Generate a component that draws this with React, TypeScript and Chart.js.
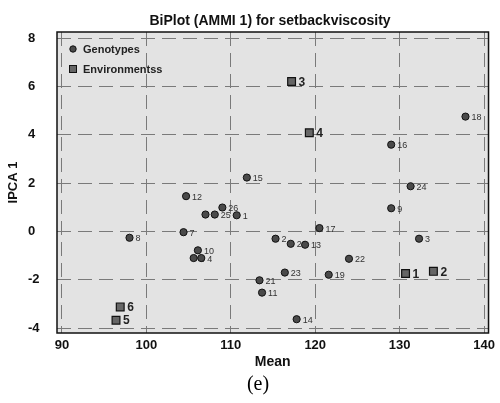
import React, { useEffect, useRef } from "react";
import { Chart, registerables } from "chart.js";

Chart.register(...registerables);

const genoLabels = ["1","2","3","4","5","6","7","8","9","10","11","12","13","14","15","16","17","18","19","20","21","22","23","24","25","26"];
const genoMean = [110.7,115.3,132.3,106.5,107.0,105.6,104.4,98.0,129.0,106.1,113.7,104.7,118.8,117.8,111.9,129.0,120.5,137.8,121.6,117.1,113.4,124.0,116.4,131.3,108.1,109.0];
const genoIPCA = [0.67,-0.30,-0.30,-1.10,0.70,-1.10,-0.03,-0.26,0.96,-0.78,-2.53,1.46,-0.55,-3.63,2.23,3.59,0.14,4.75,-1.79,-0.51,-2.02,-1.13,-1.70,1.87,0.70,0.99];

const envLabels = ["1","2","3","4","5","6"];
const envMean = [130.7,134.0,117.2,119.3,96.4,96.9];
const envIPCA = [-1.74,-1.65,6.20,4.08,-3.67,-3.12];

const xTicks = [90,100,110,120,130,140];
const yTicks = [-4,-2,0,2,4,6,8];

const titleText = "BiPlot (AMMI 1) for setbackviscosity";
const xTitle = "Mean";
const yTitle = "IPCA 1";
const legendNames = ["Genotypes", "Environmentss"];
const caption = "(e)";

const FONT = "Arial, 'Liberation Sans', sans-serif";

export default function App() {
  const ref = useRef<HTMLCanvasElement | null>(null);
  useEffect(() => {
    if (!ref.current) return;
    const deco = {
      id: "deco",
      beforeDatasetsDraw(chart: any) {
        const { ctx, chartArea: a } = chart;
        ctx.save();
        // genotype labels (drawn under markers)
        const m0 = chart.getDatasetMeta(0);
        ctx.font = "9px " + FONT;
        ctx.fillStyle = "#333";
        ctx.textBaseline = "middle";
        ctx.textAlign = "left";
        m0.data.forEach((p: any, i: number) => {
          ctx.fillText(genoLabels[i], p.x + 6, p.y + 1);
        });
        const m1 = chart.getDatasetMeta(1);
        ctx.font = "bold 12px " + FONT;
        ctx.fillStyle = "#222";
        m1.data.forEach((p: any, i: number) => {
          ctx.fillText(envLabels[i], p.x + 7, p.y + 1);
        });
        ctx.restore();
      },
      beforeDraw(chart: any) {
        const { ctx, chartArea: a } = chart;
        ctx.save();
        ctx.fillStyle = "#e3e3e3";
        ctx.fillRect(a.left, a.top, a.right - a.left, a.bottom - a.top);
        ctx.restore();
      },
      afterDraw(chart: any) {
        const { ctx, chartArea: a } = chart;
        ctx.save();
        ctx.strokeStyle = "#111";
        ctx.lineWidth = 1.5;
        ctx.strokeRect(a.left, a.top, a.right - a.left, a.bottom - a.top);
        // title
        ctx.fillStyle = "#111";
        ctx.textAlign = "center";
        ctx.textBaseline = "middle";
        ctx.font = "bold 14px " + FONT;
        ctx.fillText(titleText, 270, 21);
        // x title
        ctx.font = "bold 14px " + FONT;
        ctx.fillText(xTitle, (a.left + a.right) / 2, 362);
        // y title
        ctx.save();
        ctx.translate(13, (a.top + a.bottom) / 2);
        ctx.rotate(-Math.PI / 2);
        ctx.font = "bold 13px " + FONT;
        ctx.fillText(yTitle, 0, 0);
        ctx.restore();
        // caption
        ctx.font = "20px 'Liberation Serif', 'Times New Roman', serif";
        ctx.fillStyle = "#000";
        ctx.fillText(caption, 258, 385);
        // legend
        ctx.textAlign = "left";
        ctx.font = "bold 11px " + FONT;
        ctx.fillStyle = "#222";
        ctx.beginPath();
        ctx.arc(73, 49, 3.2, 0, Math.PI * 2);
        ctx.fillStyle = "#4a4a4a";
        ctx.fill();
        ctx.strokeStyle = "#111";
        ctx.lineWidth = 1;
        ctx.stroke();
        ctx.fillStyle = "#666";
        ctx.fillRect(69.5, 65.5, 7, 7);
        ctx.strokeRect(69.5, 65.5, 7, 7);
        ctx.fillStyle = "#222";
        ctx.fillText(legendNames[0], 83, 50);
        ctx.fillText(legendNames[1], 83, 70);
        ctx.restore();
      },
    };
    const chart = new Chart(ref.current, {
      type: "scatter",
      data: {
        datasets: [
          {
            label: legendNames[0],
            data: genoMean.map((x, i) => ({ x, y: genoIPCA[i] })),
            pointStyle: "circle",
            pointRadius: 3.6,
            backgroundColor: "#4a4a4a",
            borderColor: "#111",
            borderWidth: 1,
          },
          {
            label: legendNames[1],
            data: envMean.map((x, i) => ({ x, y: envIPCA[i] })),
            pointStyle: "rect",
            pointRadius: 5.5,
            backgroundColor: "#666",
            borderColor: "#111",
            borderWidth: 1.2,
          },
        ],
      },
      options: {
        responsive: false,
        animation: false,
        layout: { padding: { left: 28, top: 32, right: 10, bottom: 0 } },
        plugins: { legend: { display: false }, tooltip: { enabled: false }, title: { display: false } },
        scales: {
          x: {
            type: "linear",
            min: 89.41,
            max: 140.53,
            afterBuildTicks: (s: any) => { s.ticks = xTicks.map((v) => ({ value: v })); },
            afterFit: (s: any) => { s.height = 70; },
            grid: { color: "#7a7a7a", drawTicks: false, lineWidth: 1 },
            border: { display: false, dash: [14, 7] },
            ticks: { padding: 5, color: "#111", font: { family: FONT, size: 13, weight: "bold" } },
          },
          y: {
            type: "linear",
            min: -4.2,
            max: 8.25,
            afterBuildTicks: (s: any) => { s.ticks = yTicks.map((v) => ({ value: v })); },
            afterFit: (s: any) => { s.width = 29; },
            grid: { color: "#7a7a7a", drawTicks: false, lineWidth: 1 },
            border: { display: false, dash: [14, 7] },
            ticks: { crossAlign: "far", padding: 5, color: "#111", font: { family: FONT, size: 13, weight: "bold" } },
          },
        },
      },
      plugins: [deco],
    } as any);
    return () => chart.destroy();
  }, []);
  return (
    <div style={{ position: "absolute", left: 0, top: 0, width: 500, height: 403, background: "#fff" }}>
      <canvas ref={ref} width={500} height={403} style={{ width: 500, height: 403, display: "block" }} />
    </div>
  );
}
